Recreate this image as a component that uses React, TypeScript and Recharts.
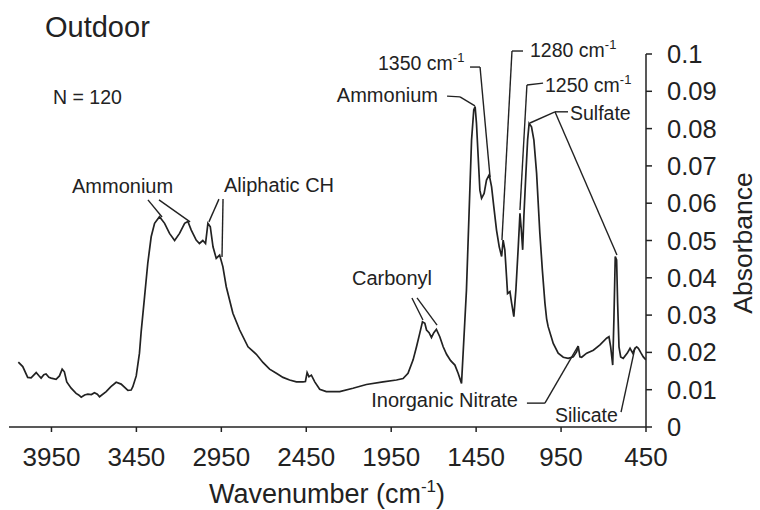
import { LineChart, Line, XAxis, YAxis, ReferenceLine } from 'recharts'

// spectrum, high to low wavenumber
const wavenumbers = [
  4145, 4119, 4090, 4070, 4040, 4025, 4011, 3995, 3982, 3965, 3952, 3923, 3903,
  3887, 3874, 3860, 3834, 3805, 3790, 3775, 3755, 3736, 3715, 3697, 3680, 3667,
  3628, 3600, 3569, 3540, 3500, 3481, 3471, 3451, 3432, 3422, 3402, 3383, 3363,
  3343, 3314, 3284, 3255, 3225, 3196, 3166, 3147, 3127, 3098, 3079, 3059, 3043,
  3029, 3015, 2999, 2980, 2960, 2941, 2921, 2882, 2842, 2793, 2744, 2705, 2666,
  2626, 2587, 2548, 2508, 2469, 2455, 2445, 2434, 2420, 2400, 2371, 2332, 2253,
  2175, 2096, 1998, 1919, 1880, 1851, 1821, 1801, 1782, 1766, 1752, 1742, 1727,
  1713, 1699, 1684, 1664, 1644, 1624, 1600, 1575, 1556, 1536, 1517, 1507, 1497,
  1487, 1477, 1464, 1456, 1448, 1438, 1428, 1418, 1403, 1389, 1373, 1359, 1346,
  1330, 1314, 1300, 1291, 1281, 1271, 1265, 1251, 1241, 1228, 1216, 1202, 1192,
  1184, 1176, 1169, 1157, 1147, 1138, 1124, 1110, 1094, 1075, 1060, 1045, 1035,
  1026, 996, 967, 937, 908, 878, 858, 849, 839, 829, 799, 760, 721, 682, 668, 658,
  646, 639, 631, 623, 617, 609, 599, 584, 560, 544, 528, 515, 505, 495, 479, 466,
  450,
]

const absorbance = [
  0.0174, 0.0162, 0.0133, 0.0132, 0.0146, 0.0138, 0.0131, 0.014, 0.0142, 0.0133,
  0.0131, 0.0128, 0.0137, 0.0155, 0.0148, 0.0121, 0.0104, 0.009, 0.0086, 0.008,
  0.0086, 0.0088, 0.0087, 0.0092, 0.0088, 0.0081, 0.0095, 0.0108, 0.012, 0.0115,
  0.0098, 0.0099, 0.0108, 0.0137, 0.0198, 0.0255, 0.0349, 0.0439, 0.051, 0.0546,
  0.0564, 0.0546, 0.0519, 0.05, 0.0519, 0.0546, 0.0551, 0.0528, 0.0501, 0.0492,
  0.05, 0.0492, 0.0546, 0.0537, 0.0483, 0.0452, 0.0461, 0.043, 0.0376, 0.0305,
  0.026, 0.0215, 0.0195, 0.0173, 0.0155, 0.0144, 0.0133, 0.0126, 0.0121, 0.0121,
  0.0122, 0.0146, 0.0135, 0.0139, 0.0121, 0.0101, 0.0095, 0.0095, 0.0104, 0.0114,
  0.0121, 0.0126, 0.013, 0.0144, 0.018, 0.0215, 0.0251, 0.0282, 0.0278, 0.026,
  0.0253, 0.024, 0.0253, 0.0262, 0.0242, 0.0215, 0.0195, 0.0178, 0.0166, 0.0144,
  0.0117, 0.028, 0.0367, 0.0501, 0.0635, 0.0769, 0.085, 0.0859, 0.0814, 0.0725,
  0.0635, 0.0613, 0.0626, 0.0662, 0.0676, 0.0644, 0.0591, 0.0528, 0.0483, 0.0457,
  0.0501, 0.0475, 0.0403, 0.0358, 0.0363, 0.0332, 0.0296, 0.0367, 0.0483, 0.0573,
  0.0528, 0.0475, 0.0564, 0.068, 0.0769, 0.0814, 0.0805, 0.0769, 0.068, 0.052,
  0.042, 0.0332, 0.029, 0.0269, 0.0224, 0.0198, 0.0187, 0.0184, 0.0188, 0.0202,
  0.0217, 0.0188, 0.0187, 0.0198, 0.0206, 0.022, 0.0238, 0.0242, 0.0215, 0.0166,
  0.0287, 0.0457, 0.0448, 0.0332, 0.0215, 0.0188, 0.0184, 0.0198, 0.0211, 0.0198,
  0.0211, 0.0215, 0.0211, 0.0198, 0.0188, 0.018,
]

const xTicks = [3950, 3450, 2950, 2450, 1950, 1450, 950, 450]
const yTicks = [0, 0.01, 0.02, 0.03, 0.04, 0.05, 0.06, 0.07, 0.08, 0.09, 0.1]

// leader lines, [wavenumber, absorbance] polylines
const leaders: [number, number][][] = [
  [[3382, 0.0609], [3299, 0.0563]],
  [[3317, 0.0609], [3134, 0.055]],
  [[2964, 0.0611], [3023, 0.055]],
  [[2940, 0.0611], [2946, 0.0456]],
  [[1828, 0.0346], [1763, 0.0287]],
  [[1798, 0.0346], [1680, 0.0273]],
  [[1621, 0.0887], [1545, 0.0885], [1457, 0.0861]],
  [[1486, 0.0965], [1427, 0.0965], [1368, 0.067]],
  [[1174, 0.1008], [1239, 0.1008], [1298, 0.0501]],
  [[1056, 0.0922], [1151, 0.0917], [1192, 0.0582]],
  [[909, 0.0845], [986, 0.0845], [1133, 0.0815]],
  [[986, 0.0845], [621, 0.0461]],
  [[1151, 0.0064], [1045, 0.0064], [850, 0.0217]],
  [[597, 0.004], [515, 0.0212]],
]

const data = wavenumbers.map((wn, i) => ({ wn, a: absorbance[i] }))

const font = '"Liberation Sans", Arial, sans-serif'
const ink = '#222'

const Sup = ({ v }: { v: string }) => (
  <tspan dy={-8} fontSize={13}>
    {v}
  </tspan>
)

export default function App() {
  return (
    <div
      style={{
        position: 'absolute',
        left: 0,
        top: 0,
        width: 760,
        height: 510,
        background: '#fff',
        fontFamily: font,
      }}
    >
      <LineChart
        width={760}
        height={510}
        data={data}
        margin={{ top: 54, right: 14, left: 9, bottom: 43 }}
      >
        <XAxis
          dataKey='wn'
          type='number'
          domain={[450, 4200]}
          reversed
          ticks={xTicks}
          height={40}
          tickSize={5}
          tickMargin={16}
          interval={0}
          allowDataOverflow
          axisLine={{ stroke: ink, strokeWidth: 1.5 }}
          tickLine={{ stroke: ink, strokeWidth: 1.5 }}
          tick={{ fill: ink, fontSize: 26, fontFamily: font }}
        />
        <YAxis
          orientation='right'
          type='number'
          domain={[0, 0.1]}
          ticks={yTicks}
          width={100}
          tickSize={6}
          tickMargin={15}
          interval={0}
          axisLine={{ stroke: ink, strokeWidth: 1.5 }}
          tickLine={{ stroke: ink, strokeWidth: 1.5 }}
          tick={{ fill: ink, fontSize: 25.5, fontFamily: font }}
        />
        <Line
          dataKey='a'
          type='linear'
          stroke={ink}
          strokeWidth={1.7}
          dot={false}
          isAnimationActive={false}
        />
        {leaders.flatMap((pts, li) =>
          pts.slice(1).map((p, si) => (
            <ReferenceLine
              key={`l-${li}-${si}`}
              segment={[
                { x: pts[si][0], y: pts[si][1] },
                { x: p[0], y: p[1] },
              ]}
              stroke={ink}
              strokeWidth={1.4}
              ifOverflow='visible'
            />
          )),
        )}
      </LineChart>

      {/* texts */}
      <svg
        width={760}
        height={510}
        style={{ position: 'absolute', left: 0, top: 0, pointerEvents: 'none' }}
        fontFamily={font}
        fill={ink}
      >
        <text x={45} y={37} fontSize={29}>Outdoor</text>
        <text x={53} y={104} fontSize={19.5}>N = 120</text>
        <text x={72} y={193} fontSize={20}>Ammonium</text>
        <text x={224} y={192} fontSize={20}>Aliphatic CH</text>
        <text x={352} y={285} fontSize={20}>Carbonyl</text>
        <text x={518} y={407} fontSize={20} textAnchor='end'>Inorganic Nitrate</text>
        <text x={555} y={422} fontSize={19.5}>Silicate</text>
        <text x={438} y={102} fontSize={20} textAnchor='end'>Ammonium</text>
        <text x={378} y={70} fontSize={19.5}>
          1350 cm<Sup v='-1' />
        </text>
        <text x={530} y={57} fontSize={19.5}>
          1280 cm<Sup v='-1' />
        </text>
        <text x={545} y={92} fontSize={19.5}>
          1250 cm<Sup v='-1' />
        </text>
        <text x={570} y={120} fontSize={19.5}>Sulfate</text>
        <text x={327} y={503} fontSize={27} textAnchor='middle'>
          Wavenumber (cm<tspan dy={-11} fontSize={17}>-1</tspan>
          <tspan dy={11}>)</tspan>
        </text>
        <text
          x={752}
          y={243}
          fontSize={26.5}
          textAnchor='middle'
          transform='rotate(-90 752 243)'
        >
          Absorbance
        </text>
      </svg>
    </div>
  )
}
